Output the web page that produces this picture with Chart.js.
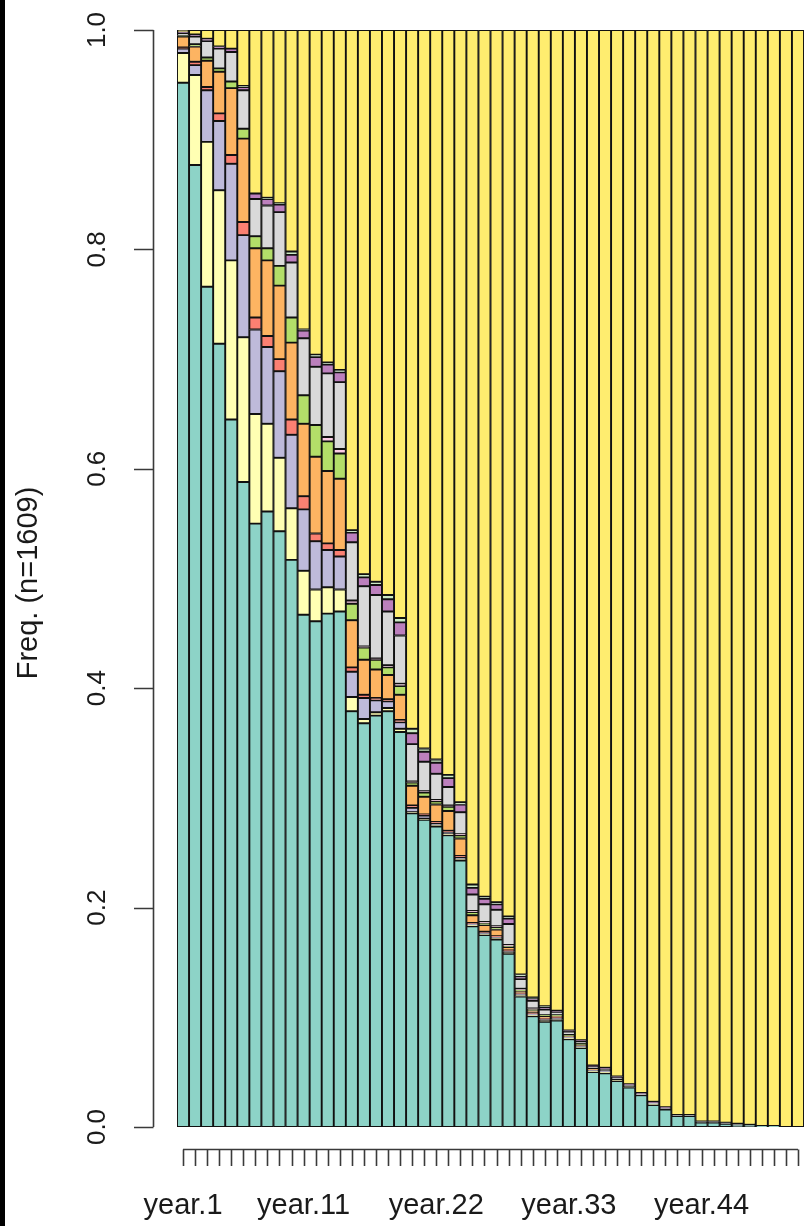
<!DOCTYPE html>
<html>
<head>
<meta charset="utf-8">
<title>State distribution plot</title>
<script src="https://cdn.jsdelivr.net/npm/chart.js@4.4.0/dist/chart.umd.min.js"></script>
<style>
  html, body { margin: 0; padding: 0; background: #fff; overflow: hidden; }
  #wrap { position: relative; width: 804px; height: 1226px; }
  #edge { position: absolute; left: 0; top: 0; width: 5px; height: 1226px; background: #000; }
</style>
</head>
<body>
<div id="wrap">
  <canvas id="chart" width="804" height="1226"></canvas>
  <div id="edge"></div>
</div>
<script>
// Categories (one bar per year) and the labels R kept on the x axis
const years = Array.from({ length: 52 }, (_, i) => 'year.' + (i + 1));
const shownYears = ['year.1', 'year.11', 'year.22', 'year.33', 'year.44'];

// Y axis ticks
const yTicks = [0, 0.2, 0.4, 0.6, 0.8, 1.0];
const yTickLabels = ['0.0', '0.2', '0.4', '0.6', '0.8', '1.0'];
const yTitle = 'Freq. (n=1609)';

// Share of each state per year, bottom of the stack first
const stateTeal = [0.952, 0.877, 0.766, 0.714, 0.645, 0.588, 0.550, 0.561, 0.543, 0.517,
  0.467, 0.461, 0.468, 0.470, 0.379, 0.368, 0.375, 0.379, 0.360, 0.286,
  0.280, 0.274, 0.266, 0.243, 0.183, 0.175, 0.171, 0.158, 0.119, 0.101,
  0.096, 0.097, 0.080, 0.072, 0.050, 0.049, 0.042, 0.036, 0.029, 0.020,
  0.016, 0.010, 0.010, 0.004, 0.004, 0.003, 0.002, 0.002, 0.001, 0.001, 0, 0];
const stateLightYellow = [0.027, 0.082, 0.132, 0.140, 0.145, 0.132, 0.100, 0.080, 0.067, 0.047,
  0.040, 0.029, 0.024, 0.020, 0.013, 0.004, 0.003, 0.003, 0.003, 0.001,
  0.001, 0.001, 0.001, 0.001, 0.001, 0.001, 0.001, 0.001, 0.001, 0.001,
  0.001, 0.001, 0.001, 0.001, 0.001, 0.001, 0.001, 0.001, 0, 0.001,
  0, 0, 0, 0, 0, 0, 0, 0, 0, 0, 0, 0];
const stateLavender = [0.004, 0.009, 0.047, 0.063, 0.088, 0.093, 0.077, 0.070, 0.079, 0.067,
  0.056, 0.044, 0.034, 0.030, 0.023, 0.019, 0.011, 0.006, 0.006, 0.004,
  0.003, 0.002, 0.002, 0.002, 0.001, 0.001, 0.001, 0.001, 0.001, 0.001,
  0.001, 0.001, 0.001, 0.001, 0.001, 0.001, 0, 0, 0, 0,
  0, 0, 0, 0, 0, 0, 0, 0, 0, 0, 0, 0];
const stateSalmon = [0.001, 0.003, 0.003, 0.007, 0.008, 0.012, 0.011, 0.010, 0.011, 0.014,
  0.012, 0.007, 0.006, 0.006, 0.004, 0.003, 0.002, 0.002, 0.002, 0.002,
  0.001, 0.001, 0.001, 0.001, 0.001, 0.001, 0.001, 0.001, 0.001, 0.001,
  0.001, 0.001, 0, 0, 0, 0, 0, 0, 0, 0,
  0, 0, 0, 0, 0, 0, 0, 0, 0, 0, 0, 0];
const stateOrange = [0.010, 0.014, 0.024, 0.038, 0.061, 0.076, 0.063, 0.069, 0.067, 0.070,
  0.066, 0.070, 0.066, 0.065, 0.043, 0.032, 0.026, 0.022, 0.023, 0.018,
  0.016, 0.016, 0.018, 0.016, 0.007, 0.006, 0.006, 0.003, 0.002, 0.002,
  0.002, 0.001, 0.001, 0.001, 0.001, 0, 0, 0, 0, 0,
  0, 0, 0, 0, 0, 0, 0, 0, 0, 0, 0, 0];
const stateGreen = [0.001, 0.002, 0.003, 0.003, 0.006, 0.009, 0.011, 0.011, 0.018, 0.023,
  0.026, 0.029, 0.027, 0.023, 0.015, 0.011, 0.009, 0.007, 0.008, 0.003,
  0.004, 0.003, 0.004, 0.003, 0.003, 0.002, 0.002, 0.001, 0.001, 0.001,
  0.001, 0.001, 0.001, 0.001, 0, 0, 0, 0, 0, 0,
  0, 0, 0, 0, 0, 0, 0, 0, 0, 0, 0, 0];
const statePink = [0, 0, 0, 0, 0, 0, 0, 0, 0, 0,
  0, 0, 0.004, 0.004, 0.003, 0.001, 0.001, 0.002, 0.002, 0.001,
  0.001, 0.001, 0.001, 0.001, 0.001, 0.001, 0.001, 0.001, 0.001, 0.001,
  0, 0, 0, 0, 0, 0, 0, 0, 0, 0,
  0, 0, 0, 0, 0, 0, 0, 0, 0, 0, 0, 0];
const stateGrey = [0.002, 0.007, 0.015, 0.018, 0.027, 0.035, 0.034, 0.039, 0.049, 0.050,
  0.052, 0.053, 0.058, 0.061, 0.053, 0.055, 0.058, 0.049, 0.044, 0.034,
  0.027, 0.024, 0.017, 0.020, 0.015, 0.016, 0.015, 0.019, 0.009, 0.007,
  0.005, 0.003, 0.003, 0.002, 0.002, 0.002, 0.002, 0.001, 0.001, 0.001,
  0.001, 0.001, 0.001, 0.001, 0.001, 0.001, 0.001, 0, 0, 0, 0, 0];
const statePurple = [0.001, 0.002, 0.002, 0.002, 0.003, 0.003, 0.005, 0.006, 0.007, 0.007,
  0.007, 0.009, 0.008, 0.009, 0.009, 0.008, 0.009, 0.011, 0.012, 0.010,
  0.009, 0.010, 0.008, 0.007, 0.006, 0.005, 0.005, 0.005, 0.002, 0.002,
  0.002, 0.001, 0.001, 0.001, 0.001, 0.001, 0.001, 0.001, 0.001, 0.001,
  0.001, 0, 0, 0, 0, 0, 0, 0, 0, 0, 0, 0];
const stateLightGreen = [0, 0, 0, 0, 0, 0.001, 0, 0.001, 0.001, 0.003,
  0.001, 0.002, 0.002, 0.002, 0.002, 0.003, 0.003, 0.004, 0.004, 0.004,
  0.003, 0.003, 0.003, 0.002, 0.003, 0.002, 0.002, 0.002, 0.002, 0.001,
  0.001, 0, 0, 0, 0, 0, 0, 0, 0, 0,
  0, 0, 0, 0, 0, 0, 0, 0, 0, 0, 0, 0];
const stateYellow = [0.002, 0.004, 0.008, 0.015, 0.017, 0.051, 0.149, 0.153, 0.158, 0.202,
  0.273, 0.296, 0.303, 0.310, 0.456, 0.496, 0.503, 0.515, 0.536, 0.637,
  0.655, 0.665, 0.679, 0.704, 0.779, 0.790, 0.795, 0.808, 0.861, 0.882,
  0.890, 0.894, 0.912, 0.921, 0.944, 0.946, 0.954, 0.961, 0.969, 0.977,
  0.982, 0.989, 0.989, 0.995, 0.995, 0.996, 0.997, 0.998, 0.999, 0.999, 1, 1];

const series = [
  { name: 'teal', data: stateTeal, color: '#8DD3C7' },
  { name: 'light yellow', data: stateLightYellow, color: '#FFFFB3' },
  { name: 'lavender', data: stateLavender, color: '#BEBADA' },
  { name: 'salmon', data: stateSalmon, color: '#FB8072' },
  { name: 'orange', data: stateOrange, color: '#FDB462' },
  { name: 'green', data: stateGreen, color: '#B3DE69' },
  { name: 'pink', data: statePink, color: '#FCCDE5' },
  { name: 'grey', data: stateGrey, color: '#D9D9D9' },
  { name: 'purple', data: statePurple, color: '#BC80BD' },
  { name: 'light green', data: stateLightGreen, color: '#CCEBC5' },
  { name: 'yellow', data: stateYellow, color: '#FFED6F' }
];

const FONT = '"Liberation Sans", Arial, Helvetica, sans-serif';

/* ------------------ R STYLE AXES ------------------ */
const rAxes = {
  id: 'rAxes',
  afterDraw(chart) {
    const { ctx } = chart;
    const x = chart.scales.x;
    const y = chart.scales.y;
    ctx.save();
    ctx.strokeStyle = '#3a3a3a';
    ctx.fillStyle = '#1a1a1a';
    ctx.lineWidth = 1.6;

    // y axis: line, ticks, rotated labels
    const axX = 153.5;
    ctx.beginPath();
    ctx.moveTo(axX, y.getPixelForValue(0));
    ctx.lineTo(axX, y.getPixelForValue(1));
    yTicks.forEach(v => {
      const py = Math.round(y.getPixelForValue(v)) + 0.5;
      ctx.moveTo(134, py);
      ctx.lineTo(axX, py);
    });
    ctx.stroke();

    ctx.font = '26px ' + FONT;
    ctx.textAlign = 'center';
    ctx.textBaseline = 'middle';
    yTicks.forEach((v, i) => {
      ctx.save();
      ctx.translate(98, y.getPixelForValue(v));
      ctx.rotate(-Math.PI / 2);
      ctx.fillText(yTickLabels[i], 0, 0);
      ctx.restore();
    });

    // y title
    ctx.font = '29px ' + FONT;
    ctx.save();
    ctx.translate(29, 583);
    ctx.rotate(-Math.PI / 2);
    ctx.fillText(yTitle, 0, 0);
    ctx.restore();

    // x axis: sits below the bars, one tick per year
    const lineY = 1149.5;
    ctx.beginPath();
    ctx.moveTo(x.getPixelForValue(0), lineY);
    ctx.lineTo(x.getPixelForValue(years.length - 1), lineY);
    years.forEach((_, i) => {
      const px = Math.round(x.getPixelForValue(i)) + 0.5;
      ctx.moveTo(px, lineY);
      ctx.lineTo(px, 1166);
    });
    ctx.stroke();

    ctx.font = '29px ' + FONT;
    years.forEach((label, i) => {
      if (shownYears.includes(label)) {
        ctx.fillText(label, x.getPixelForValue(i), 1206);
      }
    });
    ctx.restore();
  }
};

new Chart(document.getElementById('chart'), {
  type: 'bar',
  data: {
    labels: years,
    datasets: series.map(s => ({
      label: s.name,
      data: s.data,
      backgroundColor: s.color,
      borderColor: '#111',
      borderWidth: 1.3,
      borderSkipped: false,
      barPercentage: 1,
      categoryPercentage: 1
    }))
  },
  options: {
    responsive: false,
    animation: false,
    layout: { padding: { left: 177, right: 0, top: 30, bottom: 99 } },
    scales: {
      x: { stacked: true, display: false },
      y: { stacked: true, display: false, min: 0, max: 1 }
    },
    plugins: {
      legend: { display: false },
      tooltip: { enabled: false }
    }
  },
  plugins: [rAxes]
});
</script>
</body>
</html>
